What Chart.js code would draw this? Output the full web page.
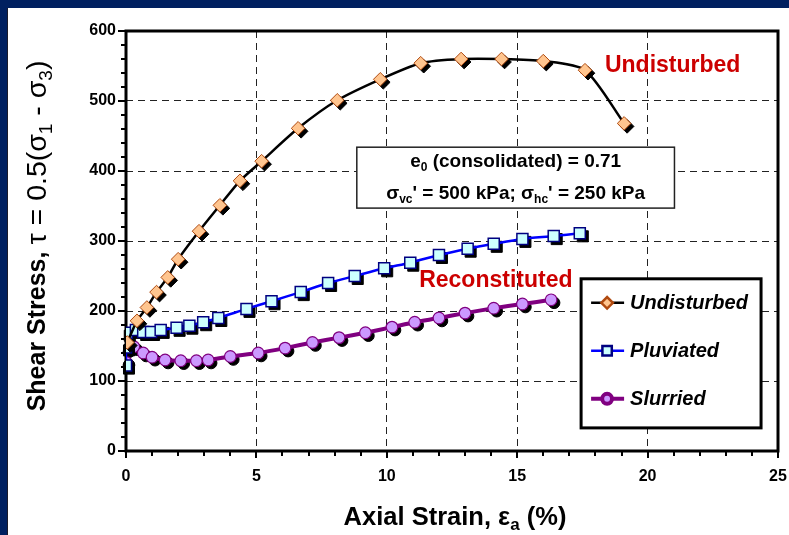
<!DOCTYPE html>
<html>
<head>
<meta charset="utf-8">
<script src="https://cdn.jsdelivr.net/npm/chart.js@4"></script>
<style>
  html, body { margin: 0; padding: 0; background: #002060; }
  #wrap { width: 789px; height: 535px; position: relative; }
</style>
</head>
<body>
<div id="wrap"><canvas id="myChart" width="789" height="535"></canvas></div>
<script>
// series
const undisturbedStrain = [0.05, 0.42, 0.8, 1.17, 1.6, 2.0, 2.8, 3.6, 4.37, 5.2, 6.6, 8.1, 9.75, 11.3, 12.85, 14.4, 16.0, 17.6, 19.1];
const undisturbedStress = [155, 186, 205, 227, 248, 274, 314, 351, 386, 414, 461, 501, 531, 554, 560, 560, 557, 544, 468];

const pluviatedStrain = [0, 0, 0.03, 0.38, 0.66, 0.96, 1.33, 1.94, 2.43, 2.96, 3.54, 4.62, 5.58, 6.7, 7.75, 8.77, 9.9, 10.9, 12.0, 13.1, 14.1, 15.2, 16.4, 17.4];
const pluviatedStress = [122, 148, 169, 173, 170, 170, 173, 176, 179, 184, 190, 203, 214, 227, 240, 250, 261, 269, 280, 289, 296, 303, 307, 311];

const slurriedStrain = [0, 0, 0.3, 0.66, 1.0, 1.5, 2.1, 2.7, 3.15, 4.0, 5.07, 6.1, 7.15, 8.17, 9.18, 10.2, 11.07, 12.0, 13.0, 14.1, 15.2, 16.3];
const slurriedStress = [127, 146, 149, 140, 134, 130, 129, 129, 130, 135, 140, 147, 155, 162, 169, 177, 184, 190, 197, 204, 210, 216];

const seriesNames = ['Undisturbed', 'Pluviated', 'Slurried'];
const xTicks = [0, 5, 10, 15, 20, 25];
const yTicks = [0, 100, 200, 300, 400, 500, 600];

const FONT = 'Arial, "Liberation Sans", sans-serif';

function toPoints(xs, ys) {
  return xs.map((x, i) => ({ x: x, y: ys[i] }));
}

// draw text with subscript parts, centred on cx
function drawRich(ctx, parts, cx, cy, size, style) {
  const fontOf = p => {
    const sz = p.size || size;
    return (p.style || style || 'bold') + ' ' + (p.sub ? Math.round(sz * 0.65) : sz) + 'px ' + FONT;
  };
  let w = 0;
  parts.forEach(p => {
    ctx.font = fontOf(p);
    p.w = ctx.measureText(p.t).width;
    w += p.w;
  });
  let x = cx - w / 2;
  ctx.textAlign = 'left';
  ctx.textBaseline = 'middle';
  parts.forEach(p => {
    ctx.font = fontOf(p);
    ctx.fillText(p.t, x, p.sub ? cy + (p.size || size) * 0.3 : cy);
    x += p.w;
  });
}

const pagePlugin = {
  id: 'page',
  beforeDraw(chart) {
    const ctx = chart.ctx;
    ctx.save();
    ctx.fillStyle = '#002060';
    ctx.fillRect(0, 0, chart.width, chart.height);
    ctx.fillStyle = '#1b1b2a';
    ctx.fillRect(7, 8, 1, chart.height);
    ctx.fillStyle = '#ffffff';
    ctx.fillRect(8, 8, chart.width, chart.height);
    ctx.restore();
  },
  beforeDatasetsDraw(chart) {
    const ctx = chart.ctx;
    const a = chart.chartArea;
    const xs = chart.scales.x, ys = chart.scales.y;
    ctx.save();
    // note box
    const l = xs.getPixelForValue(8.85), r = xs.getPixelForValue(21.03);
    const t = ys.getPixelForValue(434), b = ys.getPixelForValue(347);
    ctx.fillStyle = '#fff';
    ctx.fillRect(l, t, r - l, b - t);
    ctx.strokeStyle = '#222';
    ctx.lineWidth = 1.5;
    ctx.strokeRect(l, t, r - l, b - t);
    ctx.fillStyle = '#000';
    const cx = (l + r) / 2;
    drawRich(ctx, [{ t: 'e' }, { t: '0', sub: 1 }, { t: ' (consolidated) = 0.71' }], cx, t + 15, 19);
    drawRich(ctx, [{ t: 'σ' }, { t: 'vc', sub: 1 }, { t: "' = 500 kPa; σ" }, { t: 'hc', sub: 1 }, { t: "' = 250 kPa" }], cx, t + 47, 19);

    // plot box
    ctx.strokeStyle = '#000';
    ctx.lineWidth = 3;
    ctx.strokeRect(a.left, a.top, a.right - a.left, a.bottom - a.top);
    // ticks, major and minor
    ctx.lineWidth = 2;
    ctx.beginPath();
    for (let v = 0; v <= 600; v += 20) {
      const y = Math.round(ys.getPixelForValue(v));
      const len = v % 100 === 0 ? 8 : 5;
      ctx.moveTo(a.left - len, y);
      ctx.lineTo(a.left, y);
    }
    for (let v = 0; v <= 25; v += 1) {
      const x = Math.round(xs.getPixelForValue(v));
      const len = v % 5 === 0 ? 7 : 5;
      ctx.moveTo(x, a.bottom);
      ctx.lineTo(x, a.bottom + len);
    }
    ctx.stroke();

    // axis titles
    ctx.fillStyle = '#000';
    drawRich(ctx, [{ t: 'Axial Strain, ε' }, { t: 'a', sub: 1 }, { t: ' (%)' }], (a.left + a.right) / 2 + 3, 518, 25.5);
    ctx.save();
    ctx.translate(38, (a.top + a.bottom) / 2 - 5);
    ctx.rotate(-Math.PI / 2);
    drawRich(ctx, [
      { t: 'Shear Stress, ', size: 25 },
      { t: 'τ = 0.5(σ', style: 'normal' },
      { t: '1', sub: 1, style: 'normal' },
      { t: ' - σ', style: 'normal' },
      { t: '3', sub: 1, style: 'normal' },
      { t: ')', style: 'normal' }
    ], 0, 0, 28.5);
    ctx.restore();

    // labels
    ctx.fillStyle = '#cc0000';
    ctx.font = 'bold 23px ' + FONT;
    ctx.textAlign = 'center';
    ctx.textBaseline = 'middle';
    ctx.fillText('Undisturbed', xs.getPixelForValue(20.96), ys.getPixelForValue(551));
    ctx.fillText('Reconstituted', xs.getPixelForValue(14.18), ys.getPixelForValue(244));
    ctx.restore();
  },
  beforeDatasetDraw(chart, args) {
    // black drop shadow under the markers
    const ctx = chart.ctx;
    const meta = args.meta;
    ctx.save();
    ctx.fillStyle = '#000';
    ctx.strokeStyle = '#000';
    meta.data.forEach(pt => {
      const o = pt.options;
      Chart.helpers.drawPoint(ctx, { pointStyle: o.pointStyle, radius: o.radius, rotation: 0, borderWidth: 1 }, pt.x + 3, pt.y + 3);
    });
    ctx.restore();
  },
  afterDraw(chart) {
    const ctx = chart.ctx;
    const xs = chart.scales.x, ys = chart.scales.y;
    const l = xs.getPixelForValue(17.45), r = xs.getPixelForValue(24.35);
    const t = ys.getPixelForValue(246), b = ys.getPixelForValue(33);
    ctx.save();
    ctx.fillStyle = '#fff';
    ctx.fillRect(l, t, r - l, b - t);
    ctx.strokeStyle = '#000';
    ctx.lineWidth = 3;
    ctx.strokeRect(l, t, r - l, b - t);
    chart.data.datasets.forEach((ds, i) => {
      const y = t + 24 + i * 48;
      ctx.strokeStyle = ds.borderColor;
      ctx.lineWidth = ds.borderWidth;
      ctx.beginPath();
      ctx.moveTo(l + 10, y);
      ctx.lineTo(l + 43, y);
      ctx.stroke();
      ctx.fillStyle = ds.pointBackgroundColor;
      ctx.strokeStyle = ds.pointBorderColor;
      Chart.helpers.drawPoint(ctx, { pointStyle: ds.pointStyle, radius: ds.pointRadius * 0.85, rotation: 0, borderWidth: 1 }, l + 26, y);
      ctx.fillStyle = '#000';
      ctx.font = 'italic bold 20px ' + FONT;
      ctx.textAlign = 'left';
      ctx.textBaseline = 'middle';
      ctx.fillText(ds.label, l + 49, y + 1);
    });
    ctx.restore();
  }
};

function gridColor(c) {
  const v = c.tick.value;
  const s = c.scale;
  return (v === s.min || v === s.max) ? 'rgba(0,0,0,0)' : '#222';
}

document.addEventListener('DOMContentLoaded', function () {
  const ctx = document.getElementById('myChart');
  new Chart(ctx, {
    type: 'line',
    data: {
      datasets: [{
        label: seriesNames[0],
        data: toPoints(undisturbedStrain, undisturbedStress),
        borderColor: '#000000',
        borderWidth: 2.5,
        pointStyle: 'rectRot',
        pointRadius: 6.8,
        pointBackgroundColor: '#ffc58f',
        pointBorderColor: '#b04a10',
        pointBorderWidth: 1,
        tension: 0.25
      }, {
        label: seriesNames[1],
        data: toPoints(pluviatedStrain, pluviatedStress),
        borderColor: '#0000ff',
        borderWidth: 2.5,
        pointStyle: 'rect',
        pointRadius: 7.8,
        pointBackgroundColor: '#ccffff',
        pointBorderColor: '#000080',
        pointBorderWidth: 1.5,
        tension: 0.25
      }, {
        label: seriesNames[2],
        data: toPoints(slurriedStrain, slurriedStress),
        borderColor: '#800080',
        borderWidth: 4,
        pointStyle: 'circle',
        pointRadius: 5.8,
        pointBackgroundColor: '#cc99ff',
        pointBorderColor: '#800080',
        pointBorderWidth: 1.2,
        tension: 0.25
      }]
    },
    options: {
      responsive: false,
      animation: false,
      layout: { padding: { top: 31, right: 11, left: 0, bottom: 0 } },
      plugins: {
        legend: { display: false },
        tooltip: { enabled: false }
      },
      scales: {
        x: {
          type: 'linear',
          min: 0,
          max: 25,
          afterFit(s) { s.height = 84; s.paddingLeft = 0; s.paddingRight = 0; },
          afterBuildTicks(s) { s.ticks = xTicks.map(v => ({ value: v })); },
          border: { display: false, dash: [7, 5] },
          grid: { drawTicks: false, color: gridColor, lineWidth: 1 },
          ticks: { color: '#000', padding: 16, font: { family: FONT, size: 16, weight: 'bold' }, maxRotation: 0 },
          title: { display: false }
        },
        y: {
          min: 0,
          max: 600,
          afterFit(s) { s.width = 126; s.paddingTop = 0; s.paddingBottom = 0; },
          afterBuildTicks(s) { s.ticks = yTicks.map(v => ({ value: v })); },
          border: { display: false, dash: [7, 5] },
          grid: { drawTicks: false, color: gridColor, lineWidth: 1 },
          ticks: { color: '#000', padding: 10, font: { family: FONT, size: 16, weight: 'bold' } },
          title: { display: false }
        }
      }
    },
    plugins: [pagePlugin]
  });
});
</script>
</body>
</html>
